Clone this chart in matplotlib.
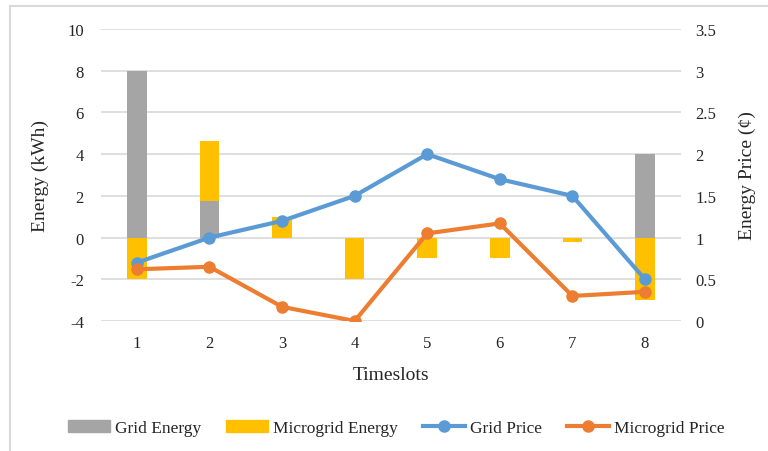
import numpy as np
import matplotlib.pyplot as plt
from matplotlib.lines import Line2D
from matplotlib.patches import Patch

plt.rcParams['font.family'] = ['Liberation Serif', 'DejaVu Serif']
plt.rcParams['axes.unicode_minus'] = False

timeslots = [1, 2, 3, 4, 5, 6, 7, 8]
grid_energy = [8.0, 1.75, 0.0, 0.0, 0.0, 0.0, 0.0, 4.0]
microgrid_energy = [-2.0, 2.9, 1.0, -2.0, -1.0, -1.0, -0.2, -3.0]
grid_price = [0.7, 1.0, 1.2, 1.5, 2.0, 1.7, 1.5, 0.5]
microgrid_price = [0.62, 0.65, 0.17, 0.0, 1.05, 1.17, 0.3, 0.35]

c_grid_e = '#A5A5A5'
c_micro_e = '#FFC000'
c_grid_p = '#5B9BD5'
c_micro_p = '#ED7D31'
txt = '#262626'
gridc = '#D9D9D9'

fig = plt.figure(figsize=(7.68, 4.52), dpi=100)
ax = fig.add_axes([0.131, 0.2876, 0.756, 0.646])
ax2 = ax.twinx()

x = np.array(timeslots)
ge = np.array(grid_energy)
me = np.array(microgrid_energy)
# positive values stack on the grid bar, negative ones hang below zero
me_bottom = np.where(me >= 0, ge, 0.0)

w = 0.27
ax.bar(x, ge, width=w, color=c_grid_e, zorder=2)
ax.bar(x, me, width=w, bottom=me_bottom, color=c_micro_e, zorder=2)

ax.set_xlim(0.5, 8.5)
ax.set_ylim(-4, 10)
ax.set_yticks(np.arange(-4, 11, 2))
ax.grid(axis='y', color=gridc, linewidth=1.2, zorder=0)
ax.set_axisbelow(True)

ax2.plot(x, grid_price, color=c_grid_p, lw=3, marker='o', ms=8, zorder=3)
ax2.plot(x, microgrid_price, color=c_micro_p, lw=3, marker='o', ms=8, zorder=3)
ax2.set_ylim(0, 3.5)
ax2.set_yticks([0, 0.5, 1, 1.5, 2, 2.5, 3, 3.5])
ax2.set_yticklabels(['0', '0.5', '1', '1.5', '2', '2.5', '3', '3.5'])

for a in (ax, ax2):
    for s in a.spines.values():
        s.set_visible(False)
    a.tick_params(length=0, labelsize=12, colors=txt)

ax.set_xticks(x)
ax.tick_params(axis='x', pad=10)
ax.tick_params(axis='y', pad=12)
ax2.tick_params(axis='y', pad=10)

ax.set_xlabel('Timeslots', fontsize=14, color=txt, labelpad=11)
ax.set_ylabel('Energy (kWh)', fontsize=14, color=txt, labelpad=13)
ax2.set_ylabel('Energy Price (¢)', fontsize=14, color=txt, labelpad=16)

handles = [
    Patch(color=c_grid_e),
    Patch(color=c_micro_e),
    Line2D([], [], color=c_grid_p, lw=3, marker='o', ms=8),
    Line2D([], [], color=c_micro_p, lw=3, marker='o', ms=8),
]
labels = ['Grid Energy', 'Microgrid Energy', 'Grid Price', 'Microgrid Price']
fig.legend(handles, labels, loc='center', bbox_to_anchor=(0.516, 1 - 429 / 452),
           ncol=4, frameon=False, fontsize=12.5, handlelength=2.4,
           handletextpad=0.3, columnspacing=1.45, labelcolor=txt)

# light frame around the chart area
fig.add_artist(Line2D([10 / 768, 10 / 768], [0, 1 - 7 / 452], transform=fig.transFigure,
                      color=gridc, lw=1.5))
fig.add_artist(Line2D([10 / 768, 1], [1 - 7 / 452, 1 - 7 / 452], transform=fig.transFigure,
                      color=gridc, lw=1.5))

fig.savefig('out.png', dpi=100)
